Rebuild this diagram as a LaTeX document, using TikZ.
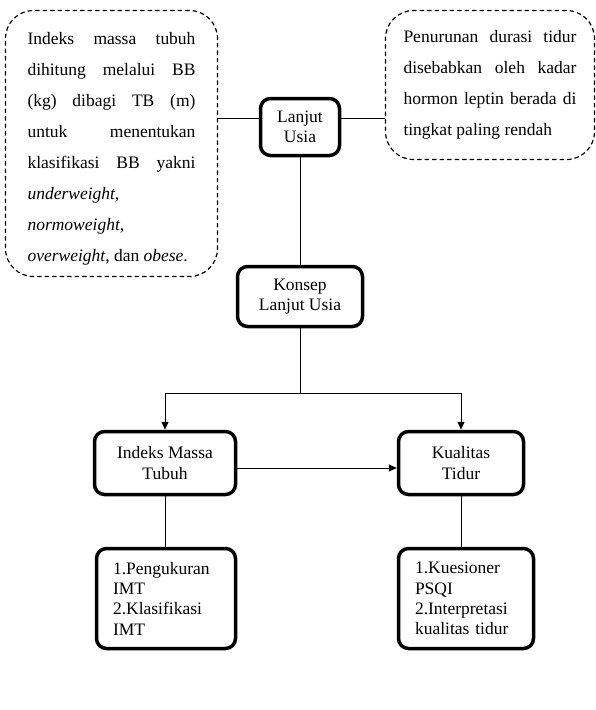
\documentclass[tikz,border=0pt]{standalone}
\usepackage{fontspec}
\setmainfont{Liberation Serif}
\usetikzlibrary{arrows.meta}
\tolerance=10000
\hyphenpenalty=10000
\begin{document}
\begin{tikzpicture}[x=1pt,y=-1pt,
    kotak/.style={draw,line width=3.5pt,rounded corners=10pt,align=center,inner sep=0pt,font=\fontsize{17.5}{20.3}\selectfont},
    catatan/.style={draw,dash pattern=on 4.5pt off 3pt,line width=1.2pt,rounded corners=28pt,inner sep=0pt,align=justify,font=\fontsize{17.5}{31}\selectfont},
    garis/.style={line width=0.9pt},
    panah/.style={garis,-{Triangle[length=8pt,width=7pt]}}]
        \useasboundingbox (0,0) rectangle (596,710);
        %% Catatan
        \node[catatan,minimum width=212pt,minimum height=266pt,text width=168pt] (catatanimt) at (111.5,143.5) {\rule{0pt}{22pt}Indeks massa tubuh\linebreak dihitung melalui BB\linebreak (kg) dibagi TB (m)\linebreak untuk menentukan\linebreak klasifikasi BB yakni\linebreak \textit{underweight},\newline \textit{normoweight},\newline \textit{overweight}, dan \textit{obese}.};
        \node[catatan,minimum width=209pt,minimum height=149pt,text width=173pt] (catatantidur) at (490,85) {Penurunan durasi tidur\linebreak disebabkan oleh kadar\linebreak hormon leptin berada di\linebreak tingkat paling rendah};
        %% Konsep
        \node[kotak,minimum width=79pt,minimum height=57pt] (lanjut) at (300,127) {Lanjut\\Usia};
        \node[kotak,minimum width=125pt,minimum height=60pt] (konsep) at (300,296.5) {Konsep\\Lanjut Usia};
        \node[kotak,minimum width=141pt,minimum height=63pt] (imt) at (165,463) {Indeks Massa\\Tubuh};
        \node[kotak,minimum width=125pt,minimum height=63pt] (tidur) at (461,463) {Kualitas\\Tidur};
        \node[kotak,align=left,text width=106pt,minimum width=139pt,minimum height=100pt] (ukur) at (166,598.5) {1.Pengukuran\\IMT\\2.Klasifikasi\\IMT};
        \node[kotak,align=left,text width=102pt,minimum width=135pt,minimum height=100pt] (kuesioner) at (466,598.5) {1.Kuesioner\\PSQI\\2.Interpretasi\\kualitas tidur};
        \coordinate (cabang) at (300,393);
        %% Garis
        \draw[garis] ([yshift=9pt]lanjut.west) -- ([yshift=9pt]lanjut.west -| catatanimt.east);
        \draw[garis] ([yshift=9pt]lanjut.east) -- ([yshift=9pt]lanjut.east -| catatantidur.west);
        \draw[garis] (lanjut.south) -- (konsep.north);
        \draw[garis] (konsep.south) -- (cabang);
        \draw[panah] (cabang) -| (imt.north);
        \draw[panah] (cabang) -| (tidur.north);
        \draw[panah] ([yshift=-5pt]imt.east) -- ([yshift=-5pt]tidur.west);
        \draw[garis] (imt.south) -- (imt.south |- ukur.north);
        \draw[garis] (tidur.south) -- (tidur.south |- kuesioner.north);
    \end{tikzpicture}
\end{document}
